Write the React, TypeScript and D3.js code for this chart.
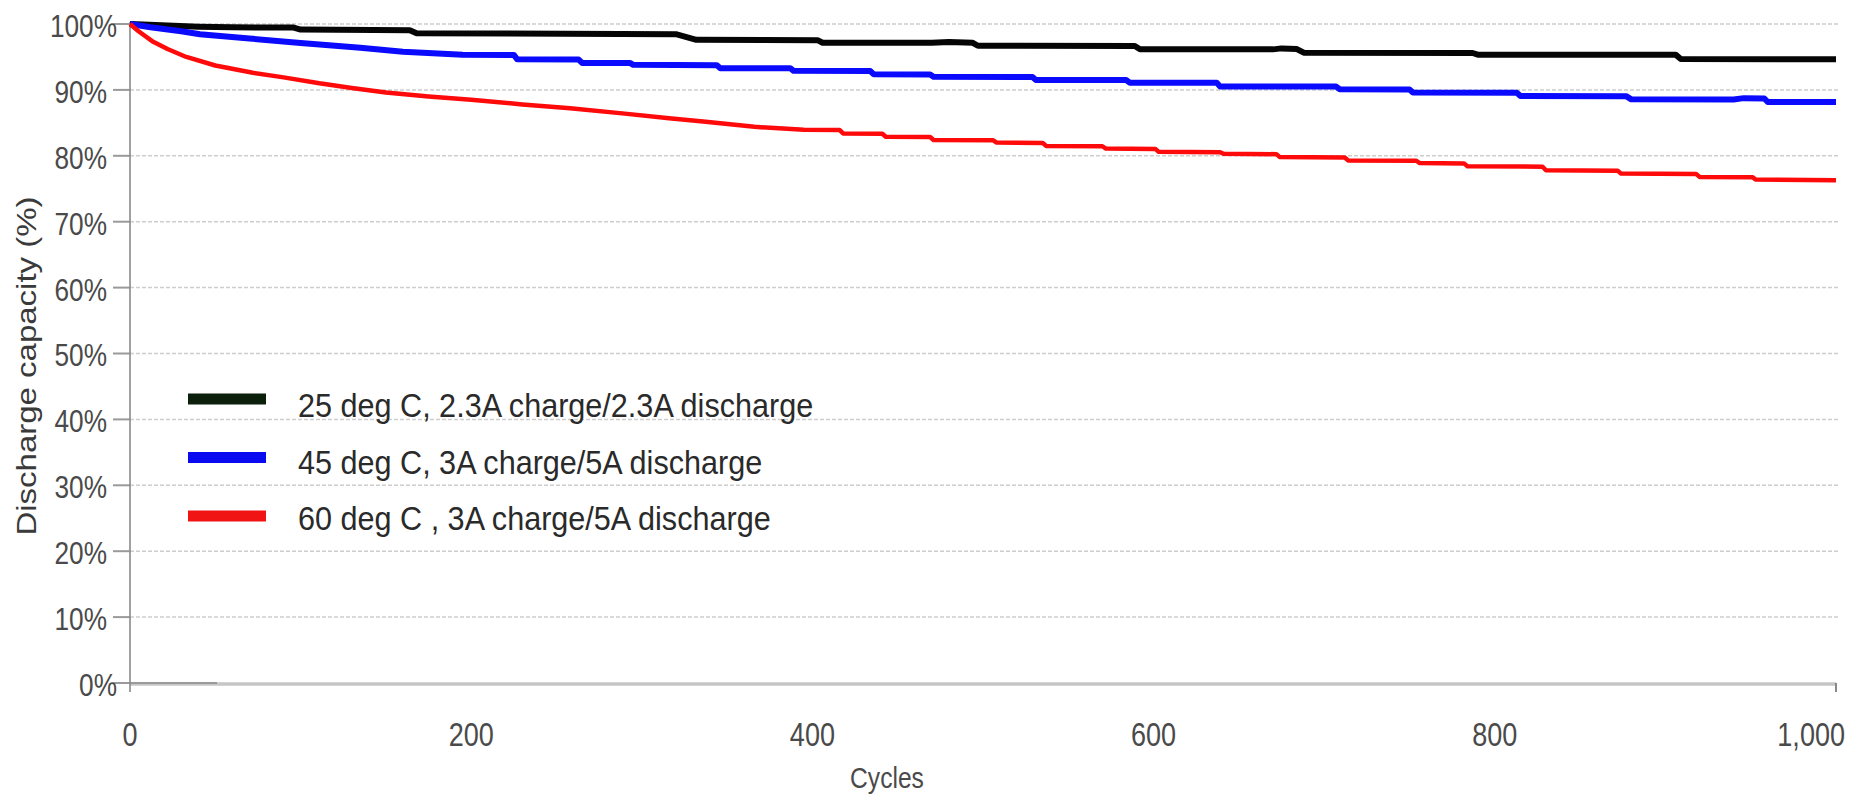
import React from "react";
import * as d3 from "d3";

const W = 1868;
const H = 798;

const yTicks = [0, 10, 20, 30, 40, 50, 60, 70, 80, 90, 100];
const xTicks = [0, 200, 400, 600, 800, 1000];

const seriesNames = [
  "25 deg C, 2.3A charge/2.3A discharge",
  "45 deg C, 3A charge/5A discharge",
  "60 deg C , 3A charge/5A discharge",
];
const lineColors = ["#050505", "#0a0aff", "#ff0a0a"];
const legendColors = ["#0b1f0b", "#0a0af0", "#f01414"];

// [cycle, capacity %]
const deg25: [number, number][] = [
  [0, 100], [15, 99.85], [40, 99.6], [60, 99.5], [96, 99.45], [100, 99.15], [164, 99.05],
  [168, 98.6], [320, 98.45], [332, 97.6], [403, 97.55], [406, 97.15], [470, 97.15],
  [480, 97.25], [494, 97.15], [497, 96.7], [589, 96.65], [592, 96.16], [670, 96.15],
  [675, 96.3], [684, 96.2], [688, 95.65], [787, 95.6], [790, 95.35], [906, 95.35],
  [909, 94.7], [1000, 94.65],
];
const deg45: [number, number][] = [
  [0, 100], [12, 99.5], [30, 98.9], [41, 98.45], [70, 97.8], [100, 97.1], [135, 96.4],
  [160, 95.8], [195, 95.35], [225, 95.3], [227, 94.65], [263, 94.6], [265, 94.1],
  [293, 94.1], [295, 93.8], [344, 93.75], [346, 93.3], [387, 93.3], [389, 92.9],
  [434, 92.85], [436, 92.36], [469, 92.35], [471, 92.0], [529, 91.95], [531, 91.5],
  [584, 91.5], [586, 91.1], [637, 91.1], [639, 90.5], [707, 90.5], [709, 90.1],
  [750, 90.05], [752, 89.6], [813, 89.55], [815, 89.07], [877, 89.05], [880, 88.57],
  [940, 88.55], [946, 88.75], [958, 88.7], [960, 88.16], [1000, 88.15],
];
const deg60: [number, number][] = [
  [0, 100], [5, 98.9], [13, 97.4], [22, 96.2], [33, 95.0], [50, 93.7], [72, 92.6],
  [90, 91.9], [111, 91.0], [130, 90.3], [150, 89.6], [175, 89.0], [200, 88.5],
  [230, 87.8], [258, 87.2], [290, 86.4], [316, 85.7], [336, 85.2], [366, 84.4],
  [395, 83.95], [416, 83.9], [418, 83.4], [441, 83.35], [443, 82.9], [469, 82.85],
  [471, 82.4], [506, 82.35], [508, 82.0], [535, 81.95], [537, 81.5], [570, 81.45],
  [572, 81.1], [601, 81.05], [603, 80.6], [639, 80.55], [641, 80.3], [672, 80.25],
  [674, 79.8], [712, 79.75], [714, 79.3], [754, 79.25], [756, 78.9], [782, 78.85],
  [784, 78.4], [828, 78.35], [830, 77.8], [872, 77.75], [874, 77.3], [918, 77.25],
  [920, 76.8], [951, 76.75], [953, 76.4], [1000, 76.3],
];
const seriesData = [deg25, deg45, deg60];
const lineWidths = [6, 6, 4.5];

const FONT = "'Liberation Sans', Arial, sans-serif";
const SQ = 0.82;

export default function App() {
  const x = d3.scaleLinear().domain([0, 1000]).range([130, 1836]);
  const y = d3.scaleLinear().domain([0, 100]).range([683, 24]);
  const line = d3
    .line<[number, number]>()
    .x((d) => x(d[0]))
    .y((d) => y(d[1]));

  return (
    <svg
      width={W}
      height={H}
      style={{ position: "absolute", left: 0, top: 0, background: "#fff" }}
      fontFamily={FONT}
    >
      {/* gridlines */}
      {yTicks
        .filter((t) => t > 0)
        .map((t) => (
          <line
            key={"g" + t}
            x1={x(0)}
            x2={x(1000) + 2}
            y1={y(t)}
            y2={y(t)}
            stroke="#cdcdcd"
            strokeWidth={1.5}
            strokeDasharray="4 2"
          />
        ))}
      {/* y tick marks */}
      {yTicks.map((t) => (
        <line
          key={"tm" + t}
          x1={x(0) - 17}
          x2={x(0)}
          y1={y(t)}
          y2={y(t)}
          stroke="#9a9a9a"
          strokeWidth={2}
        />
      ))}
      {/* x axis */}
      <line x1={x(0)} x2={x(1000)} y1={y(0) + 1} y2={y(0) + 1} stroke="#c6c6c6" strokeWidth={3.5} />
      <line x1={x(0)} x2={x(51)} y1={y(0)} y2={y(0)} stroke="#9a9a9a" strokeWidth={2} />
      <line x1={x(1000)} x2={x(1000)} y1={y(0)} y2={y(0) + 9} stroke="#888" strokeWidth={2} />
      {/* y axis */}
      <line x1={x(0)} x2={x(0)} y1={y(100) - 2} y2={y(0) + 9} stroke="#8a8a8a" strokeWidth={1.6} />

      {/* y tick labels */}
      {yTicks.map((t) => (
        <text
          key={"yl" + t}
          transform={`translate(${t === 0 || t === 100 ? 117 : 107},${y(t) + 2}) scale(${SQ},1)`}
          textAnchor="end"
          dominantBaseline="central"
          fontSize={32}
          fill="#4a4a4a"
        >
          {t}%
        </text>
      ))}
      {/* x tick labels */}
      {xTicks.map((t, i) => (
        <text
          key={"xl" + t}
          transform={`translate(${i === xTicks.length - 1 ? 1845 : x(t)},746) scale(${SQ},1)`}
          textAnchor={i === xTicks.length - 1 ? "end" : "middle"}
          fontSize={33}
          fill="#4a4a4a"
        >
          {d3.format(",")(t)}
        </text>
      ))}
      {/* axis titles */}
      <text
        transform={`translate(887,788) scale(${SQ},1)`}
        textAnchor="middle"
        fontSize={30}
        fill="#4a4a4a"
      >
        Cycles
      </text>
      <text
        transform={`translate(27,366) rotate(-90) scale(1,${SQ})`}
        textAnchor="middle"
        dominantBaseline="central"
        fontSize={33}
        fill="#3a3a3a"
      >
        Discharge capacity (%)
      </text>

      {/* series */}
      {seriesData.map((d, i) => (
        <path
          key={"s" + i}
          d={line(d) || ""}
          fill="none"
          stroke={lineColors[i]}
          strokeWidth={lineWidths[i]}
          strokeLinejoin="round"
        />
      ))}

      {/* legend */}
      {seriesNames.map((name, i) => (
        <g key={"lg" + i}>
          <rect x={188} y={399 + i * 58.5 - 5.5} width={78} height={11} fill={legendColors[i]} />
          <text
            transform={`translate(298,${417 + i * 56.5}) scale(0.9,1)`}
            fontSize={34}
            fill="#2a2a2a"
          >
            {name}
          </text>
        </g>
      ))}
    </svg>
  );
}
